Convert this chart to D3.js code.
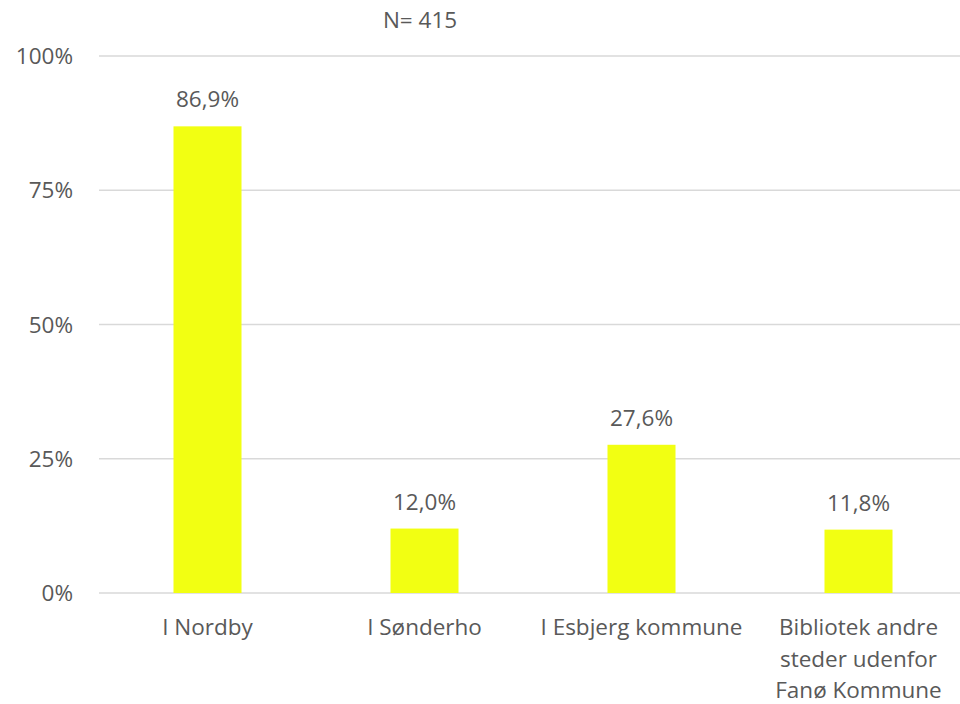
<!DOCTYPE html>
<html>
<head>
<meta charset="utf-8">
<script src="https://cdn.jsdelivr.net/npm/d3@7"></script>
<style>
  body { margin: 0; background: #fff; }
  text { font-family: "Open Sans", "Noto Sans", sans-serif; fill: #595959; }
</style>
</head>
<body>
<div id="chart"></div>
<script>
const width = 960;
const height = 704;

// data
const categories = ["I Nordby", "I Sønderho", "I Esbjerg kommune", "Bibliotek andre steder udenfor Fanø Kommune"];
// how the long category name is broken in the original
const categoryLines = [["I Nordby"], ["I Sønderho"], ["I Esbjerg kommune"], ["Bibliotek andre", "steder udenfor", "Fanø Kommune"]];
const values = [86.9, 12.0, 27.6, 11.8];
const yTicks = [0, 25, 50, 75, 100];
const note = "N= 415";

const margin = {top: 56, left: 99, bottom: 111};
const fontSize = "22.5px";

const svg = d3.select("#chart").append("svg")
    .attr("width", width)
    .attr("height", height);

const x = d3.scaleBand()
    .domain(categories)
    .range([margin.left, margin.left + 4 * 217])
    .paddingInner(0.6866)
    .paddingOuter(0.3433);

const y = d3.scaleLinear()
    .domain([0, 100])
    .range([height - margin.bottom, margin.top]);

// gridlines
svg.append("g")
    .selectAll("line")
    .data(yTicks)
    .join("line")
    .attr("x1", margin.left)
    .attr("x2", margin.left + 4 * 217)
    .attr("y1", d => y(d))
    .attr("y2", d => y(d))
    .attr("stroke", "#d9d9d9")
    .attr("stroke-width", 1.5);

// y tick labels
svg.append("g")
    .selectAll("text")
    .data(yTicks)
    .join("text")
    .attr("x", 73)
    .attr("y", d => y(d))
    .attr("dy", "0.36em")
    .attr("text-anchor", "end")
    .style("font-size", fontSize)
    .text(d => d + "%");

// bars
svg.append("g")
    .selectAll("rect")
    .data(values)
    .join("rect")
    .attr("x", (d, i) => x(categories[i]))
    .attr("width", x.bandwidth())
    .attr("y", d => y(d))
    .attr("height", d => y(0) - y(d))
    .attr("fill", "#f2ff12");

// value labels
svg.append("g")
    .selectAll("text")
    .data(values)
    .join("text")
    .attr("x", (d, i) => x(categories[i]) + x.bandwidth() / 2)
    .attr("y", d => y(d) - 19)
    .attr("text-anchor", "middle")
    .style("font-size", fontSize)
    .text(d => d3.format(".1f")(d).replace(".", ",") + "%");

// category labels
svg.append("g")
    .selectAll("text")
    .data(categories)
    .join("text")
    .attr("text-anchor", "middle")
    .style("font-size", fontSize)
    .each(function(c, i) {
        const cx = x(c) + x.bandwidth() / 2;
        d3.select(this).selectAll("tspan")
            .data(categoryLines[i])
            .join("tspan")
            .attr("x", cx)
            .attr("y", (l, j) => 635 + j * 31.5)
            .text(l => l);
    });

// sample size note
svg.append("text")
    .attr("x", 420)
    .attr("y", 28)
    .attr("text-anchor", "middle")
    .style("font-size", fontSize)
    .text(note);
</script>
</body>
</html>
